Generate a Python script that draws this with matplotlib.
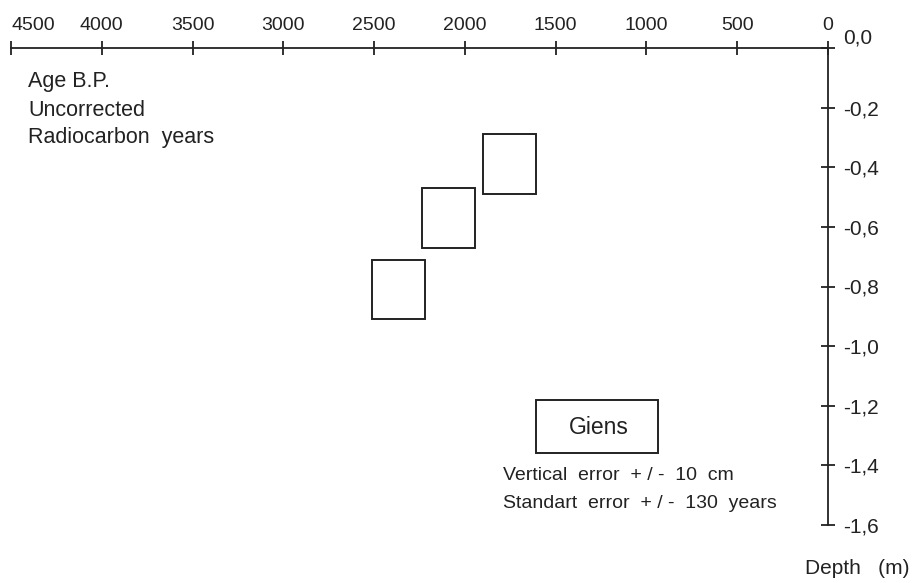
import matplotlib
matplotlib.use("Agg")
import matplotlib.pyplot as plt
from matplotlib.patches import Rectangle

plt.rcParams['font.family'] = ['Liberation Sans', 'DejaVu Sans']

# radiocarbon samples (uncorrected years B.P.) and depth (m)
ages = [1755, 2090, 2365]
depths = [-0.39, -0.57, -0.81]
age_err = 145
depth_err = 0.10

x_ticks = [4500, 4000, 3500, 3000, 2500, 2000, 1500, 1000, 500, 0]
y_ticks = [0.0, -0.2, -0.4, -0.6, -0.8, -1.0, -1.2, -1.4, -1.6]
y_labels = ['0,0', '-0,2', '-0,4', '-0,6', '-0,8', '-1,0', '-1,2', '-1,4', '-1,6']

ink = '#222222'
W, H = 917, 583

fig = plt.figure(figsize=(W / 100, H / 100), dpi=100)
fig.patch.set_facecolor('white')
ax = fig.add_axes([11 / W, 1 - 525 / H, 817 / W, 477 / H])

for a, d in zip(ages, depths):
    ax.add_patch(Rectangle((a - age_err, d - depth_err), 2 * age_err, 2 * depth_err,
                           fill=False, edgecolor=ink, linewidth=1.4))

ax.set_xlim(4500, 0)
ax.set_ylim(-1.6, 0)

# axes drawn like the hand figure: top axis and right axis only
ax.spines['left'].set_visible(False)
ax.spines['bottom'].set_visible(False)
for side in ['top', 'right']:
    ax.spines[side].set_color(ink)
    ax.spines[side].set_linewidth(1.3)

ax.xaxis.tick_top()
ax.yaxis.tick_right()
ax.set_xticks(x_ticks)
ax.set_xticklabels([str(v) for v in x_ticks])
ax.set_yticks(y_ticks)
ax.set_yticklabels(y_labels)
ax.tick_params(axis='x', direction='inout', length=10, width=1.3, color=ink,
               labelsize=14, labelcolor=ink, pad=5)
ax.tick_params(axis='y', direction='inout', length=10, width=1.3, color=ink,
               labelsize=15, labelcolor=ink, pad=6)
ax.get_yticklabels()[0].set_verticalalignment('bottom')
first = ax.get_xticklabels()[0]
first.set_horizontalalignment('left')
first.set_x(4520)

# left annotation
for txt, yp in [('Age B.P.', 82), ('Uncorrected', 110), ('Radiocarbon  years', 137)]:
    fig.text(28 / W, 1 - yp / H, txt, fontsize=15.5, color=ink, va='center', ha='left')

# legend box
fig.patches.append(Rectangle((536 / W, 1 - 453 / H), 122 / W, 53 / H, fill=False,
                             edgecolor=ink, linewidth=1.4, transform=fig.transFigure))
fig.text(599 / W, 1 - 428 / H, 'Giens', fontsize=16.5, color=ink, ha='center', va='center')
fig.text(503 / W, 1 - 476 / H, 'Vertical  error  + / -  10  cm', fontsize=14, color=ink,
         ha='left', va='center')
fig.text(503 / W, 1 - 504 / H, 'Standart  error  + / -  130  years', fontsize=14, color=ink,
         ha='left', va='center')

fig.text(805 / W, 1 - 568 / H, 'Depth   (m)', fontsize=15, color=ink, ha='left', va='center')

fig.savefig('out.png', dpi=100, facecolor='white')
